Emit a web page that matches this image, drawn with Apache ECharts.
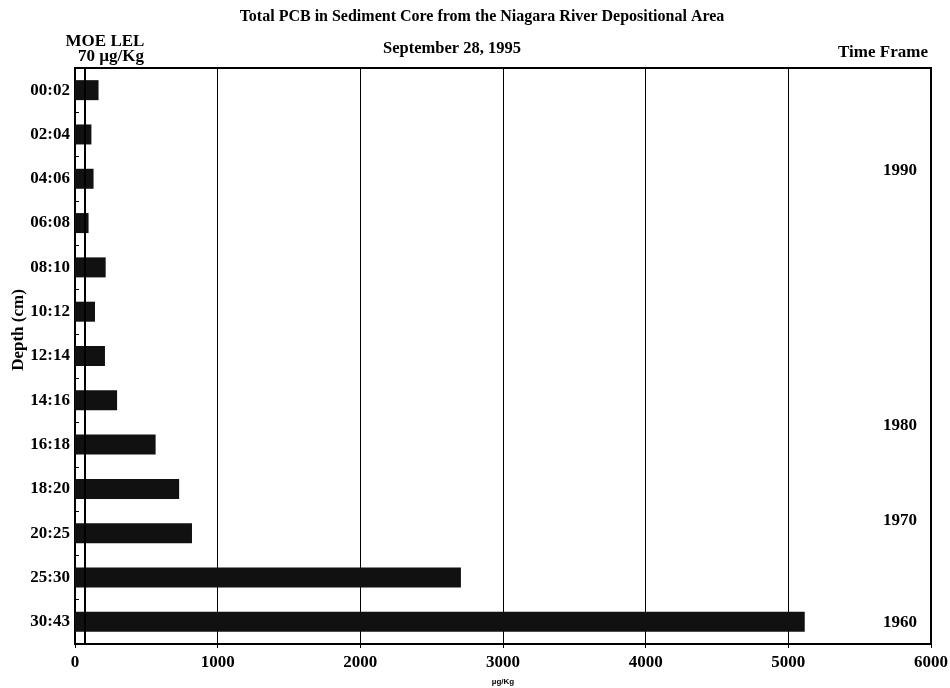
<!DOCTYPE html>
<html><head><meta charset="utf-8">
<script src="https://cdn.jsdelivr.net/npm/echarts@6/dist/echarts.min.js"></script>
<style>html,body{margin:0;padding:0;background:#fff}#c{width:950px;height:688px}</style>
</head><body><div id="c"></div>
<script>
const depths = ['00:02','02:04','04:06','06:08','08:10','10:12','12:14','14:16','16:18','18:20','20:25','25:30','30:43'];
const pcb = [165, 115, 130, 95, 215, 140, 210, 295, 565, 730, 820, 2705, 5115];
const xTicks = [0, 1000, 2000, 3000, 4000, 5000, 6000];
const moeLel = 70;
const timeFrame = [['1990', 1.8], ['1980', 7.55], ['1970', 9.7], ['1960', 12]];

const F = '"Liberation Serif","Times New Roman",serif';
const chart = echarts.init(document.getElementById('c'));
const gridL = 75, gridT = 68, gridW = 856, gridH = 576;
chart.setOption({
  animation: false,
  backgroundColor: '#fff',
  grid: {left: gridL, top: gridT, width: gridW, height: gridH, show: true, borderColor: '#000', borderWidth: 2,
         containLabel: false, outerBoundsMode: 'none'},
  xAxis: {
    type: 'value', min: xTicks[0], max: xTicks[xTicks.length-1], interval: 1000,
    axisLine: {show: true, lineStyle: {color: '#000', width: 2}},
    axisTick: {show: true, length: 4, lineStyle: {color: '#000'}},
    axisLabel: {color: '#000', fontFamily: F, fontWeight: 'bold', fontSize: 17, margin: 10,
                formatter: v => String(v)},
    splitLine: {show: true, lineStyle: {color: '#000', width: 1}},
    name: 'µg/Kg', nameLocation: 'middle', nameGap: 34,
    nameTextStyle: {fontFamily: 'Liberation Sans, Arial, sans-serif', fontSize: 8, fontWeight: 'bold', color: '#000'}
  },
  yAxis: {
    type: 'category', data: depths, inverse: true,
    axisLine: {show: true, lineStyle: {color: '#000', width: 2}},
    axisTick: {show: true, length: 4, inside: true, lineStyle: {color: '#000'}},
    axisLabel: {color: '#000', fontFamily: F, fontWeight: 'bold', fontSize: 17, margin: 5}
  },
  title: [
    {text: 'Total PCB in Sediment Core from the Niagara River Depositional Area', left: 477, top: 4, textAlign: 'center',
     textStyle: {fontFamily: F, fontSize: 16, fontWeight: 'bold', color: '#000'}},
    {text: 'September 28, 1995', left: 447, top: 35, textAlign: 'center',
     textStyle: {fontFamily: F, fontSize: 16.5, fontWeight: 'bold', color: '#000'}},
    {text: 'MOE LEL', left: 100, top: 28, textAlign: 'center',
     textStyle: {fontFamily: F, fontSize: 17, fontWeight: 'bold', color: '#000'}},
    {text: '70 µg/Kg', left: 106, top: 43, textAlign: 'center',
     textStyle: {fontFamily: F, fontSize: 17, fontWeight: 'bold', color: '#000'}},
    {text: 'Time Frame', left: 878, top: 39, textAlign: 'center',
     textStyle: {fontFamily: F, fontSize: 17, fontWeight: 'bold', color: '#000'}}
  ],
  series: [{
    type: 'bar', data: pcb, barWidth: 20,
    itemStyle: {color: '#111'},
    markLine: {
      silent: true, symbol: 'none', label: {show: false},
      lineStyle: {color: '#000', width: 2, type: 'solid'},
      data: [{xAxis: moeLel}]
    }
  }]
});
const gfx = timeFrame.map(([t, pos]) => {
  const y0 = chart.convertToPixel({yAxisIndex: 0}, depths[Math.floor(pos)]);
  const y1 = chart.convertToPixel({yAxisIndex: 0}, depths[Math.min(Math.ceil(pos), depths.length-1)]);
  const y = y0 + (y1 - y0) * (pos - Math.floor(pos));
  return {type: 'text', left: 883, top: y - 8,
    style: {text: t, font: 'bold 17px ' + F, fill: '#000'}};
});
gfx.push({type: 'text', x: 19, y: 330, rotation: Math.PI / 2,
  style: {text: 'Depth (cm)', font: 'bold 17px ' + F, fill: '#000', align: 'center', verticalAlign: 'middle'}});
chart.setOption({graphic: gfx});
</script></body></html>
